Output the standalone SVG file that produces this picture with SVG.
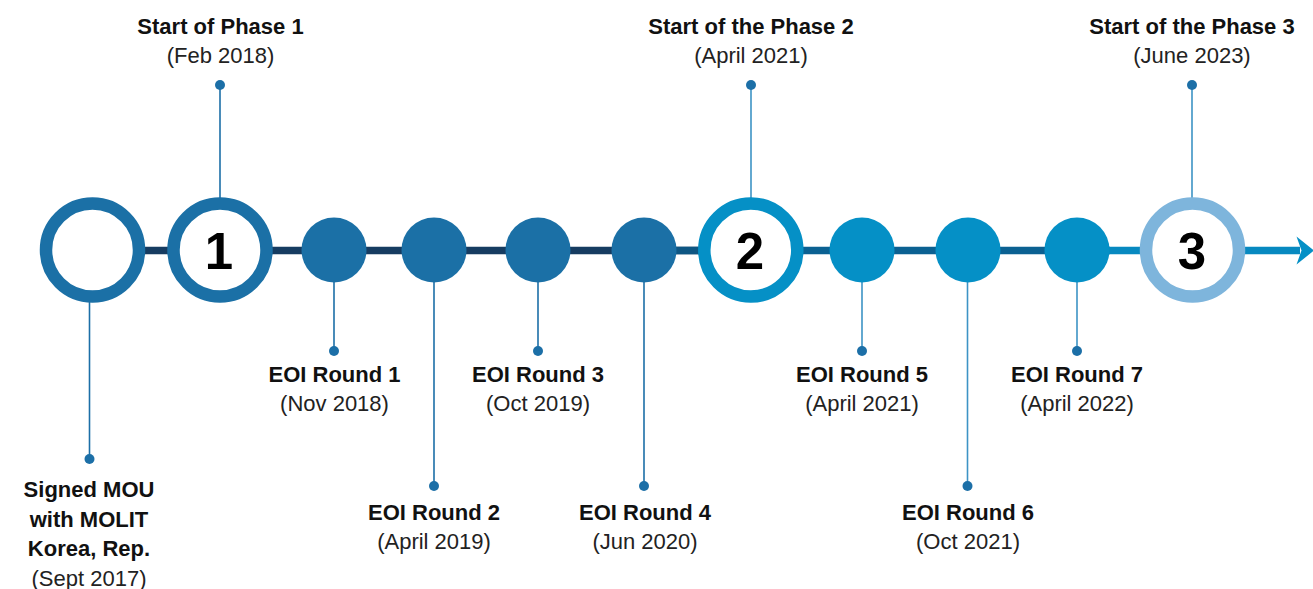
<svg xmlns="http://www.w3.org/2000/svg" width="1313" height="589" viewBox="0 0 1313 589">
  <style>
    .title { font-family: "Liberation Sans", Arial, sans-serif; font-weight: 700; font-size: 22px; fill: #111; text-anchor: middle; }
    .date { font-family: "Liberation Sans", Arial, sans-serif; font-weight: 400; font-size: 22px; fill: #222; text-anchor: middle; }
    .num { font-family: "Liberation Sans", Arial, sans-serif; font-weight: 700; font-size: 51px; fill: #000; text-anchor: middle; }
    .ring1 { fill: #fff; stroke: #1b70a6; stroke-width: 12.5; }
    .ring2 { fill: #fff; stroke: #0590c6; stroke-width: 12.5; }
    .ring3 { fill: #fff; stroke: #7eb5dc; stroke-width: 12.5; }
    .dot1 { fill: #1b70a6; }
    .dot2 { fill: #0590c6; }
    .lead1 { stroke: #1c6fa7; stroke-width: 1.6; fill: none; }
    .lead2 { stroke: #3d93c5; stroke-width: 1.6; fill: none; }
    .pin { fill: #1c6fa7; }
    .track { fill: none; stroke-width: 7.5; }
  </style>

  <!-- timeline track -->
  <g id="connectors">
    <line class="track" x1="92" y1="250.5" x2="700" y2="250.5" stroke="#163c61"/>
    <line class="track" x1="676" y1="250.5" x2="700" y2="250.5" stroke="#0e5683"/>
    <line class="track" x1="700" y1="250.5" x2="1110" y2="250.5" stroke="#0b6192"/>
    <line class="track" x1="1108" y1="250.5" x2="1300" y2="250.5" stroke="#0789c0"/>
    <path d="M1314,250.5 L1296.5,236.5 L1301.5,250.5 L1296.5,264.5 Z" fill="#0590c6"/>
  </g>

  <!-- MOU -->
  <g id="mou">
    <line class="lead1" x1="89.5" y1="300" x2="89.5" y2="459"/>
    <circle class="pin" cx="89.5" cy="459" r="5"/>
    <circle class="ring1" cx="92.5" cy="250" r="46.5"/>
    <text class="title" x="89" y="497">Signed MOU</text>
    <text class="title" x="89" y="527">with MOLIT</text>
    <text class="title" x="89" y="556">Korea, Rep.</text>
    <text class="date" x="89" y="586">(Sept 2017)</text>
  </g>

  <!-- Phase 1 start -->
  <g id="phase1">
    <line class="lead1" x1="220" y1="85" x2="220" y2="200"/>
    <circle class="pin" cx="220" cy="85" r="5"/>
    <circle class="ring1" cx="220" cy="250" r="46.5"/>
    <text class="num" x="219" y="269">1</text>
    <text class="title" x="220.5" y="34">Start of Phase 1</text>
    <text class="date" x="220.5" y="63">(Feb 2018)</text>
  </g>

  <g id="eoi1">
    <line class="lead1" x1="334" y1="280" x2="334" y2="351"/>
    <circle class="pin" cx="334" cy="351" r="5"/>
    <circle class="dot1" cx="334" cy="250" r="32.5"/>
    <text class="title" x="334.5" y="382">EOI Round 1</text>
    <text class="date" x="334.5" y="411">(Nov 2018)</text>
  </g>

  <g id="eoi2">
    <line class="lead1" x1="434" y1="280" x2="434" y2="486"/>
    <circle class="pin" cx="434" cy="486" r="5"/>
    <circle class="dot1" cx="434" cy="250" r="32.5"/>
    <text class="title" x="434" y="520">EOI Round 2</text>
    <text class="date" x="434" y="549">(April 2019)</text>
  </g>

  <g id="eoi3">
    <line class="lead1" x1="538" y1="280" x2="538" y2="351"/>
    <circle class="pin" cx="538" cy="351" r="5"/>
    <circle class="dot1" cx="538" cy="250" r="32.5"/>
    <text class="title" x="538" y="382">EOI Round 3</text>
    <text class="date" x="538" y="411">(Oct 2019)</text>
  </g>

  <g id="eoi4">
    <line class="lead1" x1="644" y1="280" x2="644" y2="486"/>
    <circle class="pin" cx="644" cy="486" r="5"/>
    <circle class="dot1" cx="644" cy="250" r="32.5"/>
    <text class="title" x="645" y="520">EOI Round 4</text>
    <text class="date" x="645" y="549">(Jun 2020)</text>
  </g>

  <!-- Phase 2 start -->
  <g id="phase2">
    <line class="lead2" x1="751" y1="85" x2="751" y2="200"/>
    <circle class="pin" cx="751" cy="85" r="5"/>
    <circle class="ring2" cx="750.8" cy="250" r="46.5"/>
    <text class="num" x="750" y="269">2</text>
    <text class="title" x="751" y="34">Start of the Phase 2</text>
    <text class="date" x="751" y="63">(April 2021)</text>
  </g>

  <g id="eoi5">
    <line class="lead2" x1="862" y1="280" x2="862" y2="351"/>
    <circle class="pin" cx="862" cy="351" r="5"/>
    <circle class="dot2" cx="862" cy="250" r="32.5"/>
    <text class="title" x="862" y="382">EOI Round 5</text>
    <text class="date" x="862" y="411">(April 2021)</text>
  </g>

  <g id="eoi6">
    <line class="lead2" x1="967.5" y1="280" x2="967.5" y2="486"/>
    <circle class="pin" cx="967.5" cy="486" r="5"/>
    <circle class="dot2" cx="968" cy="250" r="32.5"/>
    <text class="title" x="968" y="520">EOI Round 6</text>
    <text class="date" x="968" y="549">(Oct 2021)</text>
  </g>

  <g id="eoi7">
    <line class="lead2" x1="1077" y1="280" x2="1077" y2="351"/>
    <circle class="pin" cx="1077" cy="351" r="5"/>
    <circle class="dot2" cx="1077" cy="250" r="32.5"/>
    <text class="title" x="1077" y="382">EOI Round 7</text>
    <text class="date" x="1077" y="411">(April 2022)</text>
  </g>

  <!-- Phase 3 start -->
  <g id="phase3">
    <line class="lead2" x1="1192" y1="85" x2="1192" y2="200"/>
    <circle class="pin" cx="1192" cy="85" r="5"/>
    <circle class="ring3" cx="1192.5" cy="250" r="46.5"/>
    <text class="num" x="1192" y="269">3</text>
    <text class="title" x="1192" y="34">Start of the Phase 3</text>
    <text class="date" x="1192" y="63">(June 2023)</text>
  </g>
</svg>
